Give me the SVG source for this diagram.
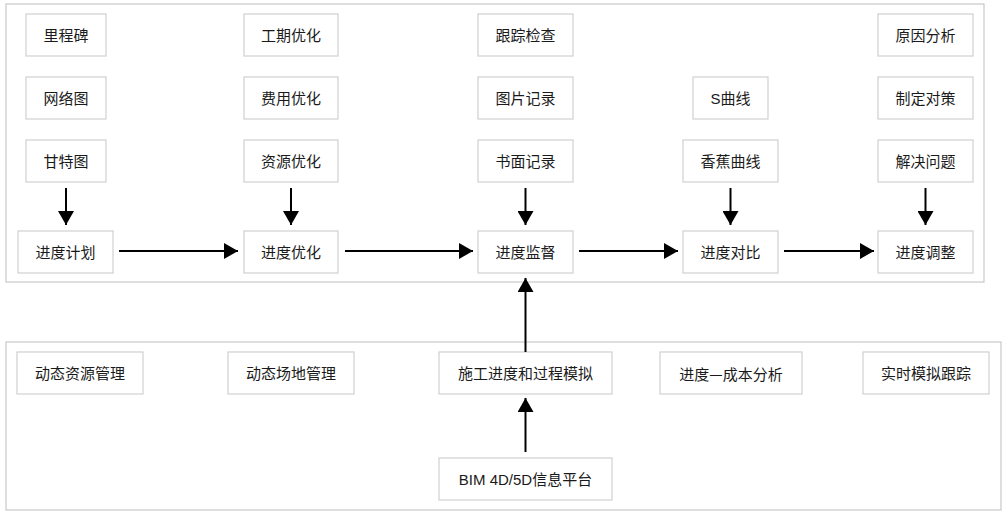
<svg xmlns="http://www.w3.org/2000/svg" width="1006" height="515" viewBox="0 0 1006 515">
<style>
.bg{fill:#fff}
.frame{fill:#fff;stroke:#c8c8c8;stroke-width:1.2}
.box{fill:#fff;stroke:#d0d0d0;stroke-width:1.2}
.t{font-family:"Liberation Sans","Noto Sans CJK SC",sans-serif;font-size:15px;fill:#1a1a1a;text-anchor:middle;dominant-baseline:central}
.cjk{font-family:"Noto Sans CJK SC",sans-serif}
.c{stroke:#000;stroke-width:2;fill:none;marker-end:url(#ah)}
</style>
<defs>
<marker id="ah" viewBox="0 0 14 16" refX="14" refY="8" markerWidth="14" markerHeight="16" markerUnits="userSpaceOnUse" orient="auto">
<path d="M0,0 L14,8 L0,16 Z" fill="#000"/>
</marker>
</defs>
<rect class="bg" x="0" y="0" width="1006" height="515"/>
<rect class="frame" x="6" y="4" width="978" height="278"/>
<rect class="frame" x="6" y="342" width="995" height="168"/>

<g id="n-lichengbei"><rect class="box" x="26" y="14" width="80" height="42"/><text class="t" x="66" y="35">里程碑</text></g>
<g id="n-wangluotu"><rect class="box" x="26" y="77" width="80" height="42"/><text class="t" x="66" y="98">网络图</text></g>
<g id="n-gantetu"><rect class="box" x="26" y="140" width="80" height="42"/><text class="t" x="66" y="161">甘特图</text></g>
<g id="n-jihua"><rect class="box" x="18" y="231" width="95" height="42"/><text class="t" x="65.5" y="252">进度计划</text></g>

<g id="n-gongqi"><rect class="box" x="244" y="14" width="94" height="42"/><text class="t" x="291" y="35">工期优化</text></g>
<g id="n-feiyong"><rect class="box" x="244" y="77" width="94" height="42"/><text class="t" x="291" y="98">费用优化</text></g>
<g id="n-ziyuan"><rect class="box" x="244" y="140" width="94" height="42"/><text class="t" x="291" y="161">资源优化</text></g>
<g id="n-youhua"><rect class="box" x="244" y="231" width="94" height="42"/><text class="t" x="291" y="252">进度优化</text></g>

<g id="n-genzong"><rect class="box" x="478" y="14" width="95" height="42"/><text class="t" x="525.5" y="35">跟踪检查</text></g>
<g id="n-tupian"><rect class="box" x="478" y="77" width="95" height="42"/><text class="t" x="525.5" y="98">图片记录</text></g>
<g id="n-shumian"><rect class="box" x="478" y="140" width="95" height="42"/><text class="t" x="525.5" y="161">书面记录</text></g>
<g id="n-jiandu"><rect class="box" x="478" y="231" width="95" height="42"/><text class="t" x="525.5" y="252">进度监督</text></g>

<g id="n-squxian"><rect class="box" x="693" y="77" width="75" height="42"/><text class="t" x="730.5" y="98">S曲线</text></g>
<g id="n-xiangjiao"><rect class="box" x="683" y="140" width="95" height="42"/><text class="t" x="730.5" y="161">香蕉曲线</text></g>
<g id="n-duibi"><rect class="box" x="683" y="231" width="95" height="42"/><text class="t" x="730.5" y="252">进度对比</text></g>

<g id="n-yuanyin"><rect class="box" x="878" y="14" width="95" height="42"/><text class="t" x="925.5" y="35">原因分析</text></g>
<g id="n-zhiding"><rect class="box" x="878" y="77" width="95" height="42"/><text class="t" x="925.5" y="98">制定对策</text></g>
<g id="n-jiejue"><rect class="box" x="878" y="140" width="95" height="42"/><text class="t" x="925.5" y="161">解决问题</text></g>
<g id="n-tiaozheng"><rect class="box" x="878" y="231" width="95" height="42"/><text class="t" x="925.5" y="252">进度调整</text></g>

<g id="n-dongtaiziyuan"><rect class="box" x="17" y="352" width="126" height="42"/><text class="t" x="80" y="373">动态资源管理</text></g>
<g id="n-dongtaichangdi"><rect class="box" x="228" y="352" width="126" height="42"/><text class="t" x="291" y="373">动态场地管理</text></g>
<g id="n-shigong"><rect class="box" x="439" y="352" width="173" height="42"/><text class="t" x="525.5" y="373">施工进度和过程模拟</text></g>
<g id="n-chengben"><rect class="box" x="660" y="352" width="142" height="42"/><text class="t cjk" x="731" y="373">进度—成本分析</text></g>
<g id="n-shishi"><rect class="box" x="863" y="352" width="126" height="42"/><text class="t" x="926" y="373">实时模拟跟踪</text></g>
<g id="n-bim"><rect class="box" x="439" y="458" width="173" height="42"/><text class="t" x="525.5" y="479">BIM 4D/5D信息平台</text></g>

<g id="connectors">
<line class="c" x1="66" y1="188" x2="66" y2="225"/>
<line class="c" x1="291" y1="188" x2="291" y2="225"/>
<line class="c" x1="525.5" y1="188" x2="525.5" y2="225"/>
<line class="c" x1="730.5" y1="188" x2="730.5" y2="225"/>
<line class="c" x1="925.5" y1="188" x2="925.5" y2="225"/>
<line class="c" x1="119" y1="251" x2="238" y2="251"/>
<line class="c" x1="345" y1="251" x2="473" y2="251"/>
<line class="c" x1="579" y1="251" x2="678" y2="251"/>
<line class="c" x1="784" y1="251" x2="874" y2="251"/>
<line class="c" x1="525.5" y1="352" x2="525.5" y2="278"/>
<line class="c" x1="525.5" y1="452" x2="525.5" y2="398"/>
</g>
</svg>
